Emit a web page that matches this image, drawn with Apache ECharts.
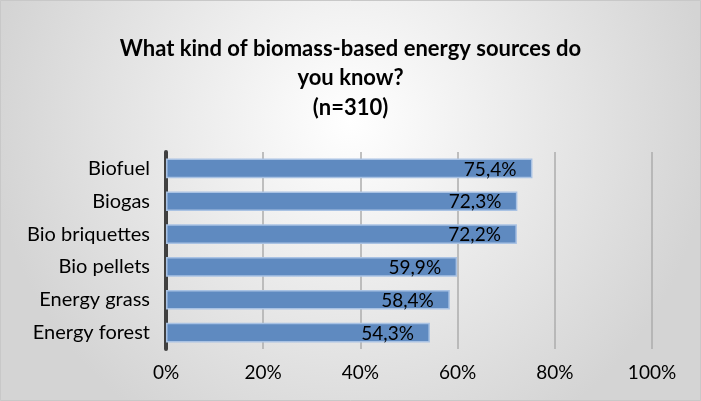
<!DOCTYPE html>
<html><head><meta charset="utf-8">
<script src="https://cdn.jsdelivr.net/npm/echarts@6/dist/echarts.min.js"></script>
<style>
html,body{margin:0;padding:0;}
#c{width:701px;height:401px;}
</style></head>
<body><div id="c"></div>
<script>
const categories = ["Energy forest","Energy grass","Bio pellets","Bio briquettes","Biogas","Biofuel"];
const values = [54.3, 58.4, 59.9, 72.2, 72.3, 75.4];
const tickLabels = ["0%","20%","40%","60%","80%","100%"];

const chart = echarts.init(document.getElementById('c'));
const font = "Lato, 'Open Sans', sans-serif";
chart.setOption({
  backgroundColor: new echarts.graphic.RadialGradient(0.5, 0.3, 0.9, [
    {offset: 0, color: '#ffffff'},
    {offset: 1, color: '#d4d4d4'}
  ]),
  animation: false,
  title: {
    text: "What kind of biomass-based energy sources do\nyou know?\n(n=310)",
    left: 'center', top: 29,
    textStyle: {fontFamily: font, fontSize: 22, fontWeight: 'bold', color: '#000', lineHeight: 29.5}
  },
  grid: {left: 166, right: 49, top: 152, bottom: 52},
  xAxis: {
    type: 'value', min: 0, max: 100, interval: 20,
    axisLine: {show: false}, axisTick: {show: false},
    splitLine: {lineStyle: {color: '#adadad', width: 1.5}},
    axisLabel: {fontFamily: font, fontSize: 19, color: '#000', margin: 14,
      formatter: (v) => tickLabels[Math.round(v/20)]}
  },
  yAxis: {
    type: 'category', data: categories,
    axisLine: {lineStyle: {color: '#404040', width: 4}},
    axisTick: {show: false},
    axisLabel: {fontFamily: font, fontSize: 20, color: '#000', margin: 16}
  },
  series: [{
    type: 'bar', data: values, barWidth: '60%',
    itemStyle: {color: '#5f8ac0', borderColor: '#a9c2e3', borderWidth: 1.5},
    label: {show: true, position: 'insideRight', distance: 16, fontFamily: font, fontSize: 19, color: '#000',
      offset: [0, 1],
      formatter: (p) => p.value.toFixed(1).replace('.', ',') + '%'}
  }],
  graphic: [{type: 'rect', shape: {x: 0.5, y: 0.5, width: 700, height: 400},
    style: {fill: 'none', stroke: '#c8c8c8', lineWidth: 1}}]
});
</script></body></html>
